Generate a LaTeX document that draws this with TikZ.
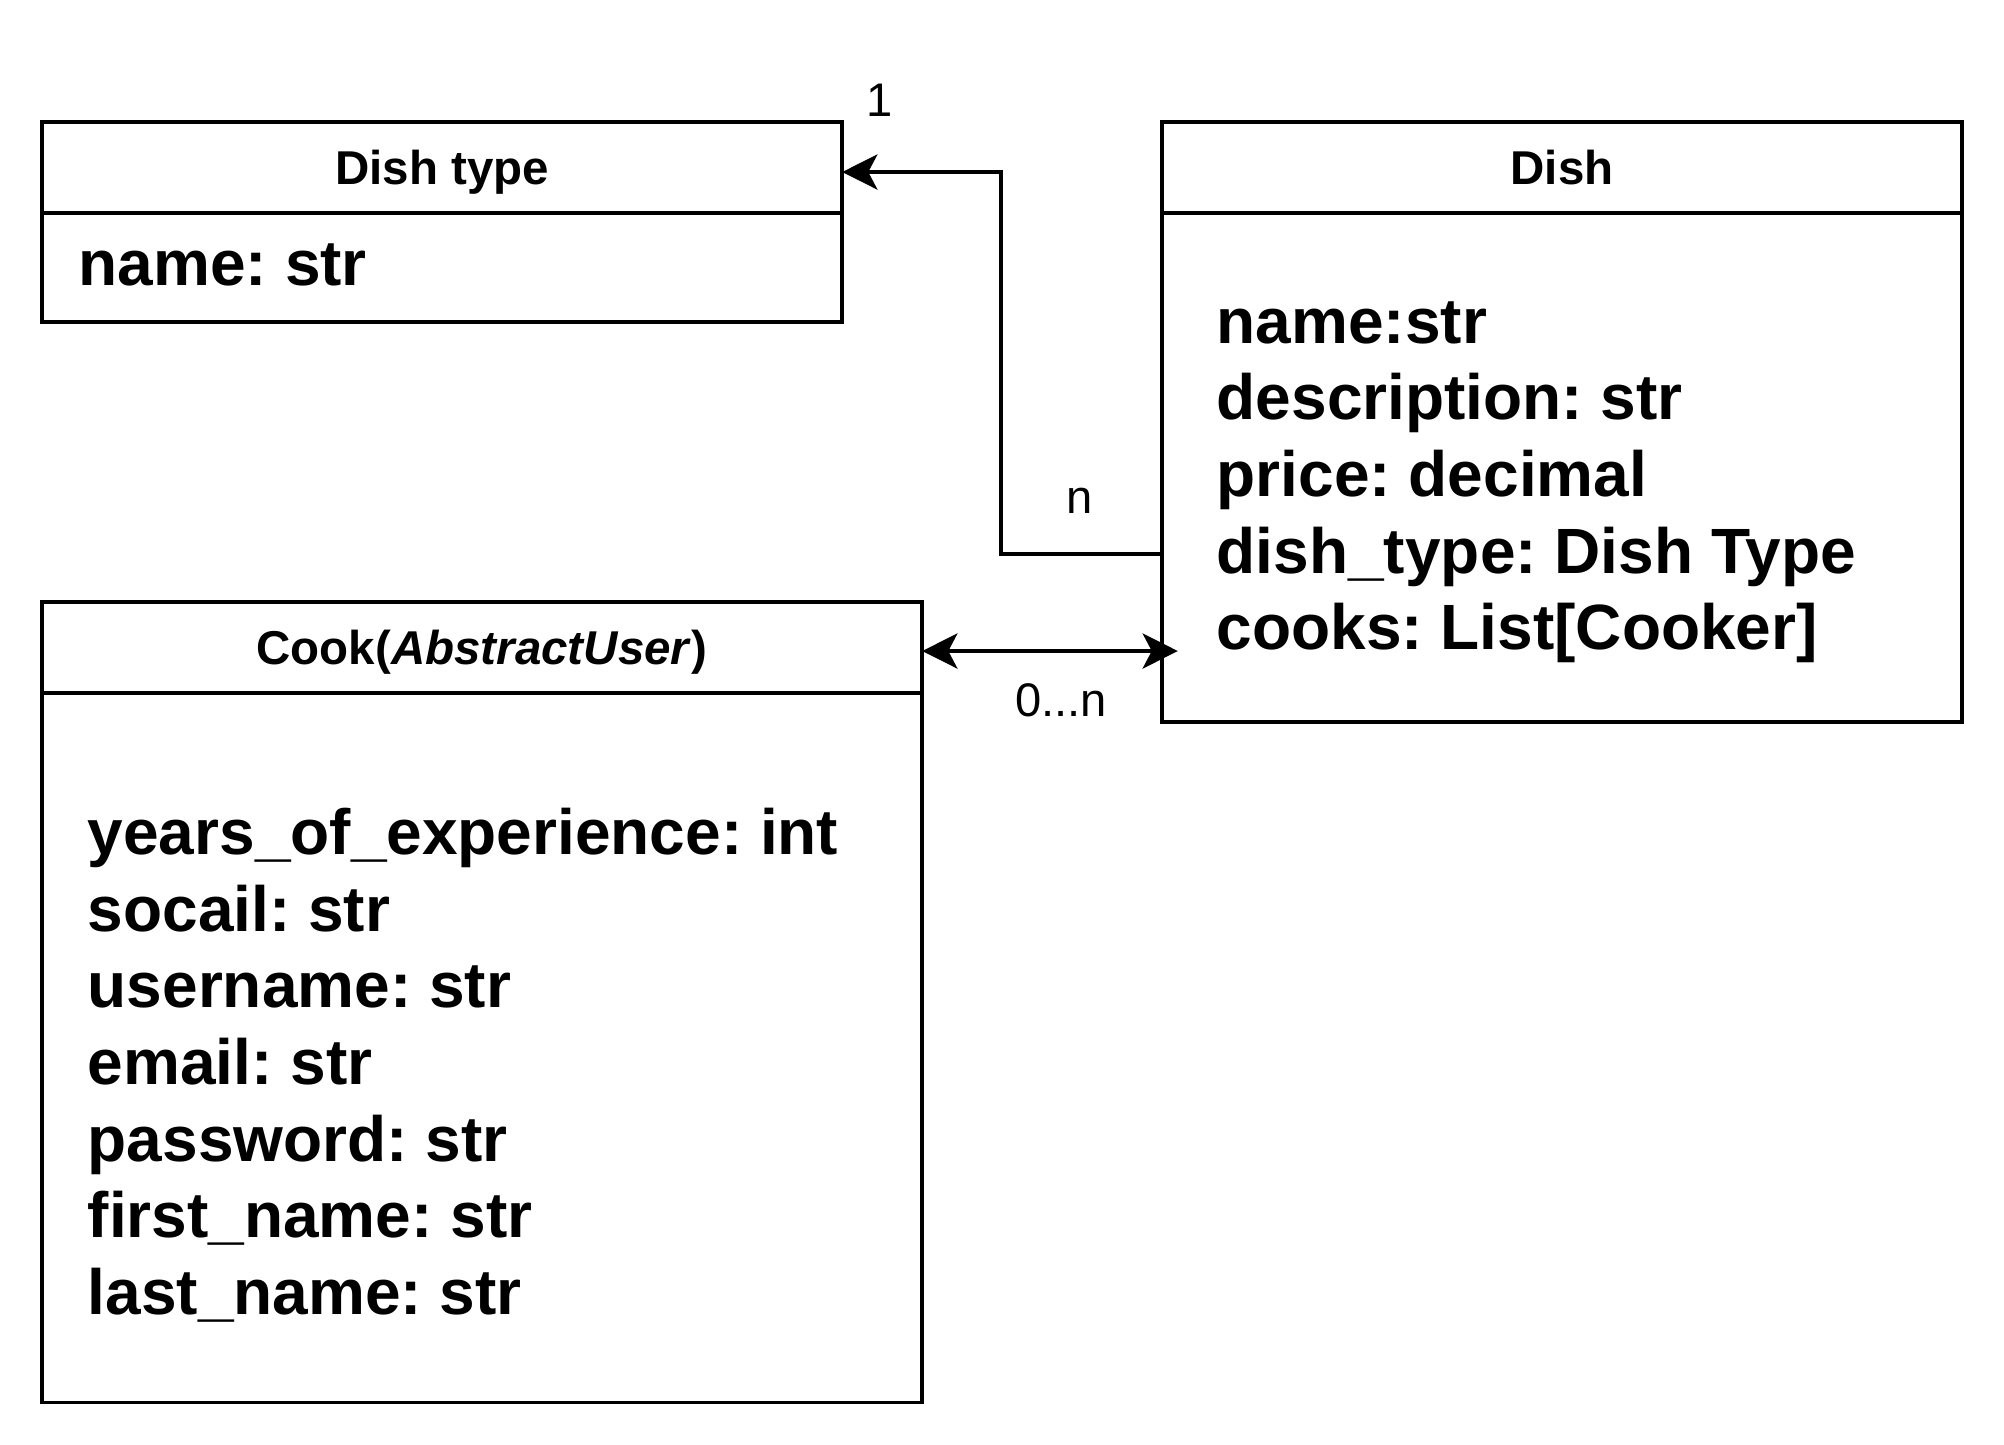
\documentclass[tikz,border=0pt]{standalone}
\usepackage{fontspec}
\setmainfont{Liberation Sans}
\usetikzlibrary{positioning}
\usetikzlibrary{arrows.meta}
\frenchspacing

\begin{document}
\begin{tikzpicture}[x=0.01cm, y=-0.01cm,
    >={Stealth[length=10pt, width=10pt, inset=2.6pt]},
    classhead/.style={draw, line width=1.1pt, outer sep=0pt, inner sep=0pt, minimum height=0.91cm, text height=9.7pt, text depth=0pt, font=\fontsize{13.5pt}{16pt}\selectfont\bfseries},
    classbody/.style={draw, line width=1.1pt, outer sep=0pt, inner sep=0pt},
    attrs/.style={align=left, inner sep=0pt, outer sep=0pt, font=\fontsize{18.2pt}{21.8pt}\selectfont\bfseries},
    assoc/.style={line width=1.1pt},
    mult/.style={font=\fontsize{13.4pt}{16pt}\selectfont}]
    \useasboundingbox (0,0) rectangle (2004,1444);

    \node (dishtype) [classhead, minimum width=8cm] at (442,167.5) {Dish type};
    \node (dishtypebody) [classbody, minimum width=8cm, minimum height=1.09cm, below=0pt of dishtype] {};
    \node (dishtypeattrs) [attrs, right=0.37cm of dishtypebody.west, yshift=0.03cm] {name: str};

    \node (dish) [classhead, minimum width=8cm] at (1562,167.5) {Dish};
    \node (dishbody) [classbody, minimum width=8cm, minimum height=5.09cm, below=0pt of dish] {};
    \node (dishattrs) [attrs, right=0.55cm of dishbody.west, yshift=-0.145cm] {name:str\\ description: str\\ price: decimal\\ dish\_type: Dish Type\\ cooks: List[Cooker]};

    \node (cook) [classhead, minimum width=8.8cm] at (482,647.5) {Cook(\textit{AbstractUser})};
    \node (cookbody) [classbody, minimum width=8.8cm, minimum height=7.09cm, below=0pt of cook] {};
    \node (cookattrs) [attrs, right=0.46cm of cookbody.west, yshift=-0.175cm] {years\_of\_experience: int\\ socail: str\\ username: str\\ email: str\\ password: str\\ first\_name: str\\ last\_name: str};

    % dish -> dish type
    \draw [assoc, ->] ([yshift=-0.865cm]dishbody.west) -- ++(-161,0) |- ([yshift=-0.045cm]dishtype.east);
    % cook <-> dish
    \path ([yshift=-0.035cm]cook.east) coordinate (cookstart);
    \path (dishbody.west |- cookstart) ++(16,0) coordinate (cookend);
    \draw [assoc, <->] (cookstart) -- (cookend);

    \node (one) [mult] at (880,100) {1};
    \node (many) [mult] at (1080,501) {n};
    \node (zeron) [mult] at (1061,700) {0...n};
\end{tikzpicture}
\end{document}
